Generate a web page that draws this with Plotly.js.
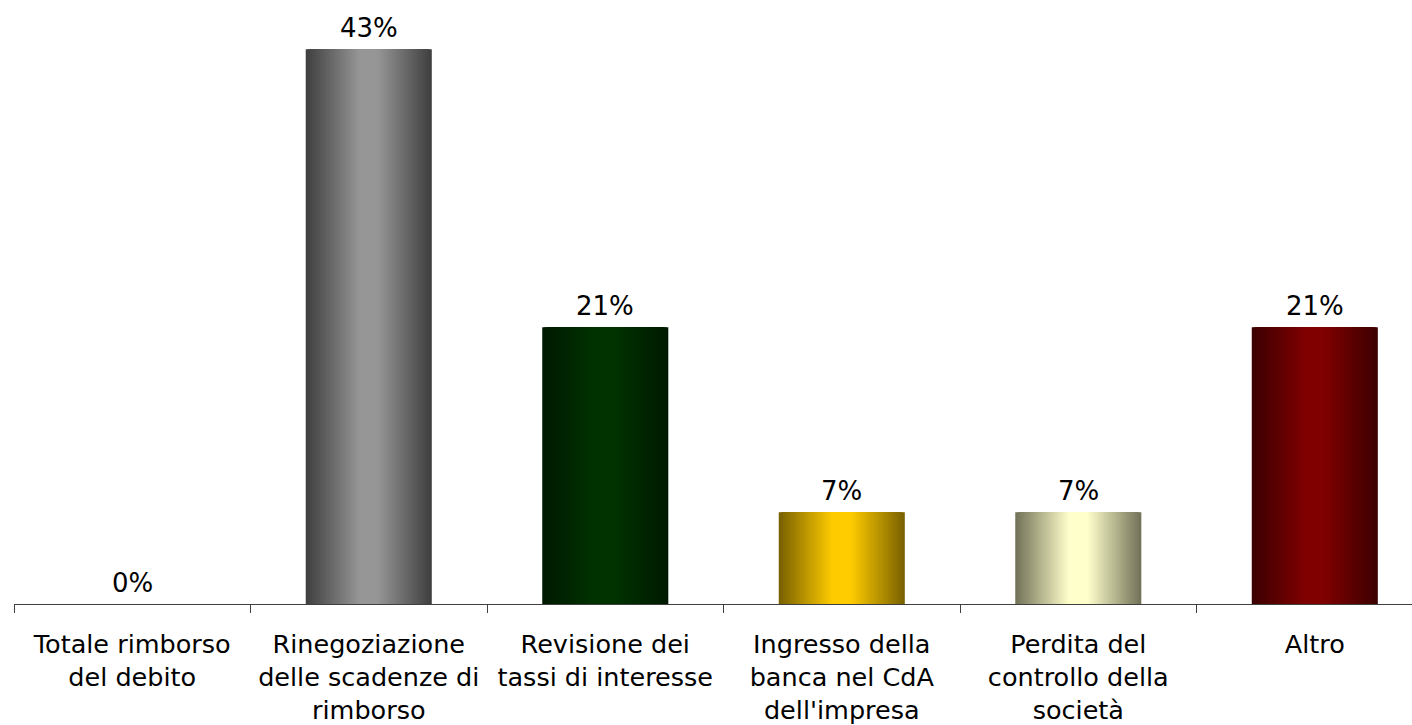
<!DOCTYPE html>
<html>
<head>
<meta charset="utf-8">
<script src="https://cdn.plot.ly/plotly-3.0.1.min.js"></script>
<style>
html,body{margin:0;padding:0;background:#fff;overflow:hidden;}
#chart{width:1412px;height:725px;}
</style>
</head>
<body>
<div id="chart"></div>
<script>
// ---- data ----
const categories = [
  "Totale rimborso<br>del debito",
  "Rinegoziazione<br>delle scadenze di<br>rimborso",
  "Revisione dei<br>tassi di interesse",
  "Ingresso della<br>banca nel CdA<br>dell'impresa",
  "Perdita del<br>controllo della<br>società",
  "Altro"
];
const values = [0, 42.9, 21.4, 7.1, 7.1, 21.4];
const valueLabels = ["0%", "43%", "21%", "7%", "7%", "21%"];
const edgeColors   = ["#10106a", "#404040", "#001a00", "#7a6200", "#737359", "#3d0000"];
const centerColors = ["#3030c0", "#969696", "#003300", "#ffcc00", "#ffffcc", "#800000"];

// ---- helpers ----
function hexToRgb(h){h=h.replace('#','');return [0,2,4].map(i=>parseInt(h.substr(i,2),16));}
function mix(a,b,t){const A=hexToRgb(a),B=hexToRgb(b);
  const c=A.map((v,i)=>Math.round(v+(B[i]-v)*t));return 'rgb('+c.join(',')+')';}

const FONT = "DejaVu Sans, Verdana, sans-serif";
const BAR_W = 0.533;
const STEPS = 30;
const traces = [];
for (let k = 0; k < STEPS; k++) {
  const t = k / (STEPS - 1);
  const w = BAR_W * (1 - k / STEPS);
  traces.push({
    type: 'bar',
    x: categories,
    y: values,
    width: w,
    marker: {color: edgeColors.map((e,i)=>mix(e, centerColors[i], Math.min(1, t*1.15))), line:{width:0}},
    hoverinfo: 'skip',
    showlegend: false,
    cliponaxis: false
  });
}

const annotations = categories.map((c, i) => ({
  x: c, y: values[i], xref: 'x', yref: 'y',
  text: valueLabels[i], showarrow: false,
  xanchor: 'center', yanchor: 'bottom', yshift: 4,
  font: {family: FONT, size: 26, color: '#000'}
}));

const layout = {
  width: 1412, height: 725,
  margin: {l: 14, r: 0, t: 22, b: 121},
  paper_bgcolor: '#fff', plot_bgcolor: '#fff',
  barmode: 'overlay',
  font: {family: FONT, size: 26, color: '#000'},
  annotations: annotations,
  xaxis: {
    type: 'category',
    range: [-0.5, 5.411],
    showline: true, linecolor: '#404040', linewidth: 1,
    ticks: 'outside', tickson: 'boundaries', ticklen: 8, tickcolor: '#404040', tickwidth: 1,
    ticklabelstandoff: 17,
    tickfont: {family: FONT, size: 25.5, color: '#000'},
    showgrid: false, zeroline: false, fixedrange: true
  },
  yaxis: {
    range: [0, 45], visible: false, showgrid: false, zeroline: false, fixedrange: true
  }
};

Plotly.newPlot('chart', traces, layout, {displayModeBar: false, staticPlot: true});
</script>
</body>
</html>
